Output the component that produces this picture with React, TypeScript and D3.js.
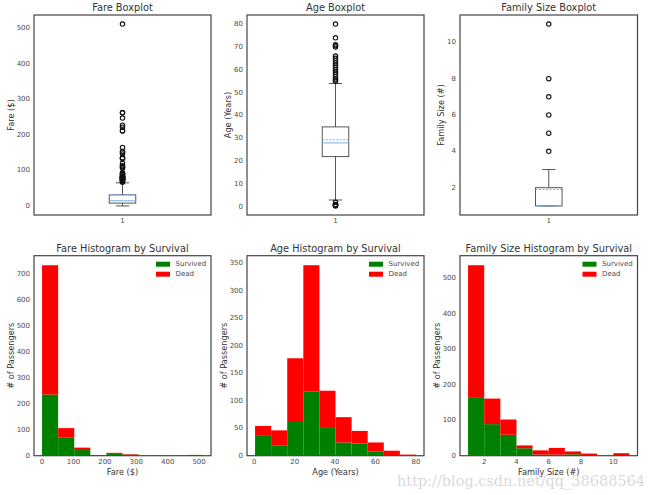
import React from "react";
import * as d3 from "d3";

// ---------- data ----------
const boxStatLabels = ["q1", "median", "q3", "mean", "whiskerLow", "whiskerHigh"];
const fareBox = [7.91, 14.45, 31.0, 32.2, 0, 65];
const ageBox = [22, 28, 35, 29.36, 3, 54];
const familyBox = [1, 1, 2, 1.9, 1, 3];

const fareFliers = [66.6, 69.3, 69.55, 71, 71.28, 73.5, 75.25, 76.29, 76.73, 77.29, 77.96, 78.27, 78.85, 79.2, 79.65, 80, 81.86, 82.17, 83.16, 83.47, 86.5, 89.1, 90, 91.08, 93.5, 106.43, 108.9, 110.88, 113.28, 120, 133.65, 134.5, 135.63, 146.52, 151.55, 153.46, 164.87, 211.34, 211.5, 221.78, 227.53, 247.52, 262.38, 263, 512.33];
const ageFliers = [0.42, 0.67, 0.75, 0.83, 0.92, 1, 2, 55, 55.5, 56, 57, 58, 59, 60, 61, 62, 63, 64, 65, 66, 70, 70.5, 71, 74, 80];
const familyFliers = [4, 5, 6, 7, 8, 11];

const fareRange = [0, 512.33];
const ageRange = [0.42, 80];
const familyRange = [1, 11];

const fareSurvived = [235, 69, 22, 2, 7, 4, 0, 0, 0, 3];
const fareDead = [497, 37, 9, 0, 4, 2, 0, 0, 0, 0];
const ageSurvived = [36, 19, 63, 117, 52, 24, 22, 8, 0, 1];
const ageDead = [18, 27, 114, 229, 66, 46, 23, 16, 9, 1];
const familySurvived = [163, 89, 59, 21, 3, 3, 4, 0, 0, 0];
const familyDead = [374, 72, 43, 8, 12, 19, 8, 6, 0, 7];

const fareBoxTicks = [0, 100, 200, 300, 400, 500];
const ageBoxTicks = [0, 10, 20, 30, 40, 50, 60, 70, 80];
const familyBoxTicks = [2, 4, 6, 8, 10];
const fareHistXTicks = [0, 100, 200, 300, 400, 500];
const fareHistYTicks = [0, 100, 200, 300, 400, 500, 600, 700];
const ageHistXTicks = [0, 20, 40, 60, 80];
const ageHistYTicks = [0, 50, 100, 150, 200, 250, 300, 350];
const familyHistXTicks = [2, 4, 6, 8, 10];
const familyHistYTicks = [0, 100, 200, 300, 400, 500];

const legendLabels = ["Survived", "Dead"];
const legendColors = ["#008000", "#ff0000"];

// ---------- layout ----------
const FONT = "DejaVu Sans";
const TEXT = "#333333";
const TICK = "#4a4a4a";
const FRAME = "#444444";
const cols: [number, number][] = [[34, 211], [247, 424], [460, 637.5]];
const topRow: [number, number] = [15, 215];
const botRow: [number, number] = [255.7, 455.7];

function pad([a, b]: number[]) {
  const m = (b - a) * 0.05;
  return [a - m, b + m];
}

function YTicks({ y, ticks, left }: any) {
  return (
    <g>
      {ticks.map((t: number) => (
        <text key={t} x={left - 4} y={y(t)} fontSize={7} fill={TICK} textAnchor="end" dominantBaseline="central" fontFamily={FONT}>{t}</text>
      ))}
    </g>
  );
}

function ylabelX(left: number, ticks: number[]) {
  const digits = d3.max(ticks, (t) => String(t).length) as number;
  return left - (10 + 4.3 * digits);
}

function BoxPanel({ col, title, ylabel, stats, fliers, range, ticks }: any) {
  const [x0, x1] = col;
  const [y0, y1] = topRow;
  const y = d3.scaleLinear().domain(pad(range)).range([y1, y0]);
  const x = d3.scaleLinear().domain([0.5, 1.5]).range([x0, x1]);
  const [q1, med, q3, mean, wlo, whi] = stats;
  const bw = 0.15;
  const cx = x(1);
  const bl = x(1 - bw / 2), br = x(1 + bw / 2);
  const cl = x(1 - bw / 4), cr = x(1 + bw / 4);
  return (
    <g>
      <text x={(x0 + x1) / 2} y={y0 - 8} fontSize={9.8} fill={TEXT} textAnchor="middle" dominantBaseline="central" fontFamily={FONT}>{title}</text>
      <YTicks y={y} ticks={ticks} left={x0} />
      <text x={cx} y={y1 + 6} fontSize={7} fill={TICK} textAnchor="middle" dominantBaseline="central" fontFamily={FONT}>1</text>
      <text transform={`translate(${ylabelX(x0, ticks)},${(y0 + y1) / 2}) rotate(-90)`} fontSize={8.2} fill={TEXT} textAnchor="middle" dominantBaseline="central" fontFamily={FONT}>{ylabel}</text>
      {/* whiskers */}
      <line x1={cx} x2={cx} y1={y(q3)} y2={y(whi)} stroke="#555" strokeWidth={1} />
      <line x1={cx} x2={cx} y1={y(q1)} y2={y(wlo)} stroke="#555" strokeWidth={1} />
      <line x1={cl} x2={cr} y1={y(whi)} y2={y(whi)} stroke="#555" strokeWidth={1} />
      <line x1={cl} x2={cr} y1={y(wlo)} y2={y(wlo)} stroke="#555" strokeWidth={1} />
      {/* box */}
      <rect x={bl} width={br - bl} y={y(q3)} height={y(q1) - y(q3)} fill="white" stroke="#444" strokeWidth={0.9} />
      <line x1={bl} x2={br} y1={y(mean)} y2={y(mean)} stroke="#8a9be0" strokeWidth={0.9} strokeDasharray="2,1.5" />
      <line x1={bl} x2={br} y1={y(med)} y2={y(med)} stroke="#6aa6d6" strokeWidth={0.9} />
      {fliers.map((f: number, i: number) => (
        <circle key={i} cx={cx} cy={y(f)} r={2.2} fill="none" stroke="#111" strokeWidth={1.1} />
      ))}
      <rect x={x0} y={y0} width={x1 - x0} height={y1 - y0} fill="none" stroke={FRAME} strokeWidth={1.2} />
    </g>
  );
}

function HistPanel({ col, title, xlabel, range, survived, dead, xTicks, yTicks }: any) {
  const [x0, x1] = col;
  const [y0, y1] = botRow;
  const x = d3.scaleLinear().domain(pad(range)).range([x0, x1]);
  const totals = survived.map((s: number, i: number) => s + dead[i]);
  const ymax = (d3.max(totals) as number) * 1.05;
  const y = d3.scaleLinear().domain([0, ymax]).range([y1, y0]);
  const n = survived.length;
  const edges = d3.range(n + 1).map((i) => range[0] + (i * (range[1] - range[0])) / n);
  const stack = d3.stack().keys(["s", "d"])(survived.map((s: number, i: number) => ({ s, d: dead[i] })) as any);
  const lx = x1 - 55;
  return (
    <g>
      <text x={(x0 + x1) / 2} y={y0 - 7.5} fontSize={9.8} fill={TEXT} textAnchor="middle" dominantBaseline="central" fontFamily={FONT}>{title}</text>
      {stack.map((layer: any, li: number) => (
        <g key={li} fill={legendColors[li]}>
          {layer.map((d: any, i: number) => (
            <rect key={i} x={x(edges[i])} width={x(edges[i + 1]) - x(edges[i])} y={y(d[1])} height={Math.max(0, y(d[0]) - y(d[1]))} />
          ))}
        </g>
      ))}
      <YTicks y={y} ticks={yTicks} left={x0} />
      {xTicks.map((t: number) => (
        <text key={t} x={x(t)} y={y1 + 6} fontSize={7} fill={TICK} textAnchor="middle" dominantBaseline="central" fontFamily={FONT}>{t}</text>
      ))}
      <text x={(x0 + x1) / 2} y={y1 + 16.5} fontSize={8.2} fill={TEXT} textAnchor="middle" dominantBaseline="central" fontFamily={FONT}>{xlabel}</text>
      <text transform={`translate(${ylabelX(x0, yTicks)},${(y0 + y1) / 2}) rotate(-90)`} fontSize={8.2} fill={TEXT} textAnchor="middle" dominantBaseline="central" fontFamily={FONT}>{"# of Passengers"}</text>
      {legendLabels.map((l, i) => (
        <g key={l}>
          <rect x={lx} y={y0 + 6 + i * 10} width={14} height={5} fill={legendColors[i]} />
          <text x={lx + 19.5} y={y0 + 8.6 + i * 10} fontSize={7} fill={TICK} dominantBaseline="central" fontFamily={FONT}>{l}</text>
        </g>
      ))}
      <rect x={x0} y={y0} width={x1 - x0} height={y1 - y0} fill="none" stroke={FRAME} strokeWidth={1.2} />
    </g>
  );
}

export default function App() {
  return (
    <svg width={650} height={495} style={{ position: "absolute", left: 0, top: 0, background: "white" }}>
      <rect width={650} height={495} fill="white" />
      <BoxPanel col={cols[0]} title="Fare Boxplot" ylabel="Fare ($)" stats={fareBox} fliers={fareFliers} range={fareRange} ticks={fareBoxTicks} />
      <BoxPanel col={cols[1]} title="Age Boxplot" ylabel="Age (Years)" stats={ageBox} fliers={ageFliers} range={ageRange} ticks={ageBoxTicks} />
      <BoxPanel col={cols[2]} title="Family Size Boxplot" ylabel="Family Size (#)" stats={familyBox} fliers={familyFliers} range={familyRange} ticks={familyBoxTicks} />
      <HistPanel col={cols[0]} title="Fare Histogram by Survival" xlabel="Fare ($)" range={fareRange} survived={fareSurvived} dead={fareDead} xTicks={fareHistXTicks} yTicks={fareHistYTicks} />
      <HistPanel col={cols[1]} title="Age Histogram by Survival" xlabel="Age (Years)" range={ageRange} survived={ageSurvived} dead={ageDead} xTicks={ageHistXTicks} yTicks={ageHistYTicks} />
      <HistPanel col={cols[2]} title="Family Size Histogram by Survival" xlabel="Family Size (#)" range={familyRange} survived={familySurvived} dead={familyDead} xTicks={familyHistXTicks} yTicks={familyHistYTicks} />
      <text x={397} y={486} fontSize={15.5} fill="#cfcfcf" fillOpacity={0.8} fontFamily="DejaVu Serif" textLength={248} lengthAdjust="spacingAndGlyphs">http://blog.csdn.net/qq_38688564</text>
    </svg>
  );
}
